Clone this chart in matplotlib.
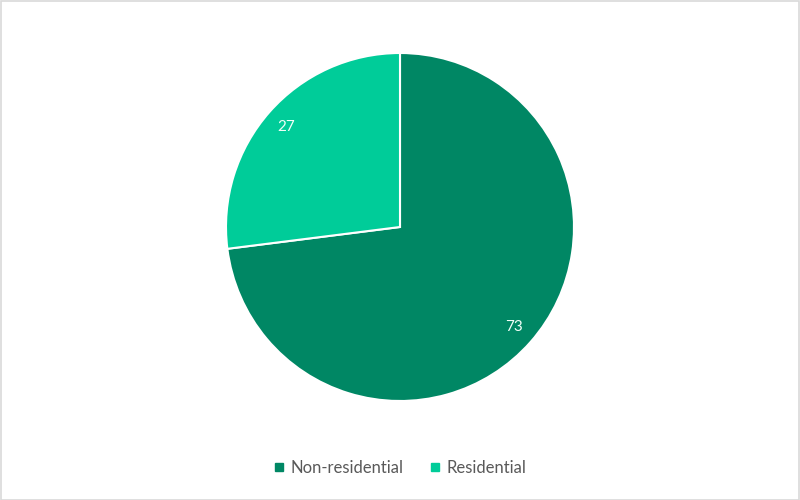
import matplotlib
matplotlib.use("Agg")
import matplotlib.pyplot as plt
from matplotlib.lines import Line2D
from matplotlib.patches import Rectangle

categories = ["Non-residential", "Residential"]
values = [73, 27]
colors = ["#008764", "#00CC99"]

plt.rcParams['font.family'] = ['Lato', 'DejaVu Sans']

fig = plt.figure(figsize=(8, 5), dpi=100)
fig.patches.append(Rectangle((0.001, 0.001), 0.998, 0.997, transform=fig.transFigure,
                             fill=False, edgecolor="#D9D9D9", linewidth=1.2))

cx, cy, r = 400, 227, 174
ax = fig.add_axes([(cx - r) / 800, (500 - cy - r) / 500, 2 * r / 800, 2 * r / 500])
wedges, texts = ax.pie(values, colors=colors, startangle=90, counterclock=False,
                       labels=[str(v) for v in values], labeldistance=0.87,
                       wedgeprops=dict(edgecolor="white", linewidth=1.5),
                       textprops=dict(color="#F0FFF8", fontsize=11))
for t in texts:
    t.set_horizontalalignment("center")
    t.set_verticalalignment("center")
ax.set_xlim(-1, 1)
ax.set_ylim(-1, 1)
ax.set_aspect("equal")

handles = [Line2D([], [], marker="s", linestyle="none", markersize=6,
                  markerfacecolor=c, markeredgecolor=c) for c in colors]
fig.legend(handles, categories, loc="center", bbox_to_anchor=(0.5, 1 - 468 / 500),
           ncol=2, frameon=False, fontsize=12, handlelength=0.6, handletextpad=0.4,
           columnspacing=1.6, labelcolor="#595959")

fig.savefig("out.png", dpi=100)
